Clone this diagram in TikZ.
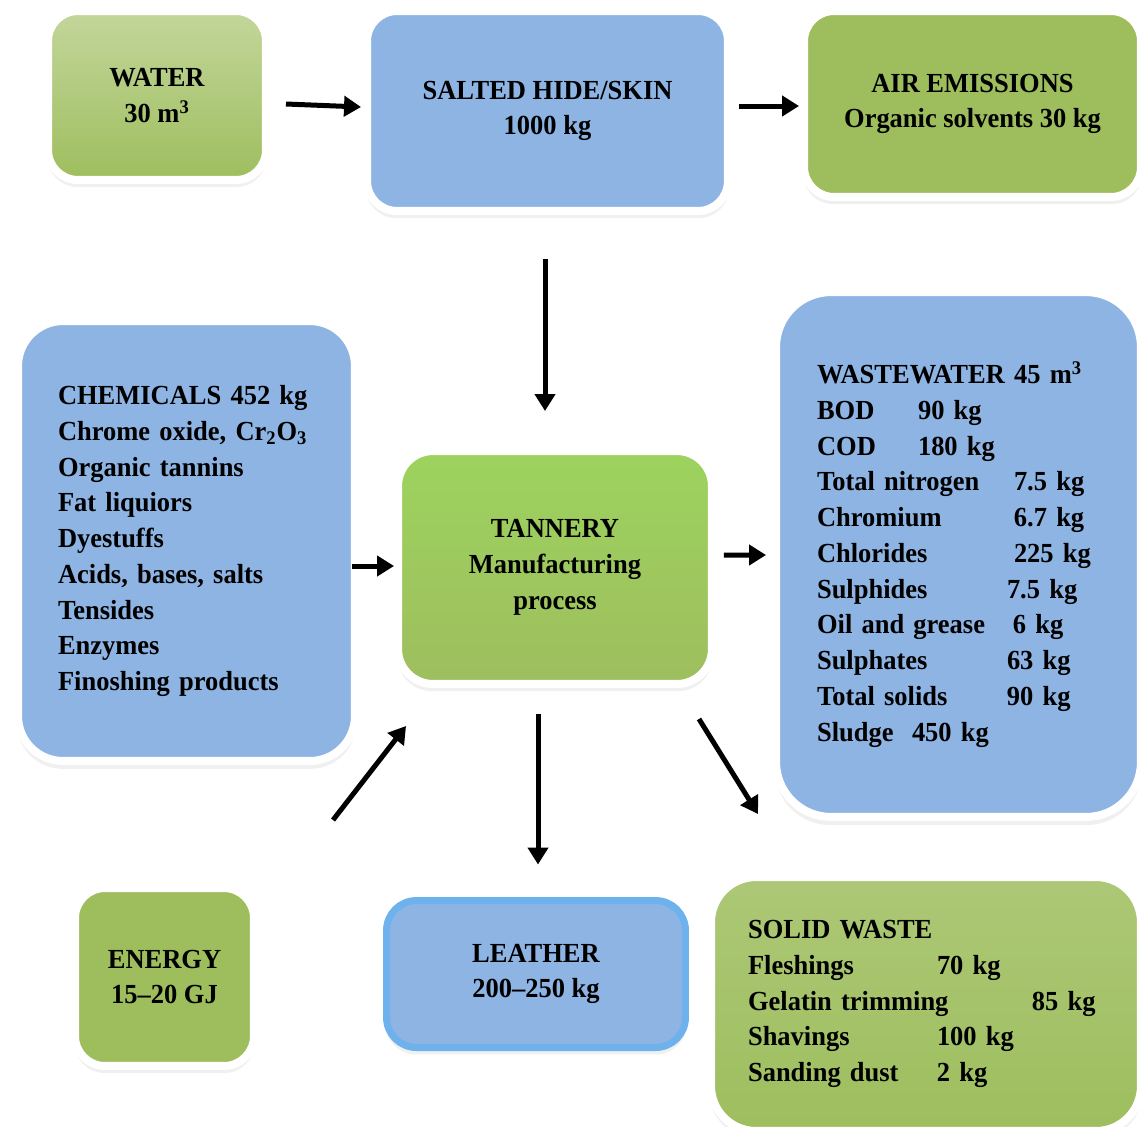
\documentclass[tikz,border=0pt]{standalone}
\usepackage{fontspec}
\setmainfont{Liberation Serif}[FakeStretch=0.96]
\usetikzlibrary{arrows.meta,calc,shadows}
\definecolor{hideblue}{HTML}{8EB4E3}
\definecolor{leafgreen}{HTML}{9EBE5E}
\definecolor{lightleaf}{HTML}{C3D69B}
\definecolor{brightleaf}{HTML}{9DD35E}
\definecolor{rimblue}{HTML}{6DB2EC}
\newcommand{\boxfont}{\fontsize{15.7}{20.35}\selectfont\bfseries}
\tikzset{
	>={Triangle[length=0.34cm,width=0.4cm]},  % solid heads
	box/.style={rounded corners=0.6cm, draw=white, line width=0.16cm,
		drop shadow={opacity=0.12, shadow xshift=0cm, shadow yshift=-0.13cm, shadow scale=1.006},
		drop shadow={opacity=0.22, shadow xshift=0.01cm, shadow yshift=-0.06cm, shadow scale=1.003},
		font=\boxfont, inner sep=0pt, align=center},
	bluebox/.style={box, fill=hideblue},
	greenbox/.style={box, fill=leafgreen},
	listbox/.style={align=left},
	flow/.style={->, line width=0.1cm}
}

\begin{document}
\begin{tikzpicture}[x=0.02cm,y=-0.02cm]
	\useasboundingbox (0,0) rectangle (1139,1126);
	\clip (0,0) rectangle (1139,1126);
	
	% inputs and the hide
	\node[box, top color=lightleaf, bottom color=leafgreen, minimum width=4.36cm, minimum height=3.38cm] (water) at (157,95.5) {WATER\\30 m\textsuperscript{3}};
	\node[bluebox, minimum width=7.22cm, minimum height=4cm] (hide) at (547.5,111) {SALTED HIDE/SKIN\\1000 kg};
	\node[greenbox, minimum width=6.74cm, minimum height=3.72cm] (air) at (972.5,104) {AIR EMISSIONS\\Organic solvents 30 kg};
	
	% middle row
	\node[bluebox, listbox, rounded corners=0.9cm, text width=5.14cm, inner xsep=0.8cm, minimum height=8.8cm] (chem) at (186.5,541) {CHEMICALS 452 kg\\Chrome oxide, Cr\textsubscript{2}O\textsubscript{3}\\Organic tannins\\Fat liquiors\\Dyestuffs\\Acids, bases, salts\\Tensides\\Enzymes\\Finoshing products};
	\node[box, top color=brightleaf, bottom color=leafgreen, rounded corners=0.7cm, minimum width=6.28cm, minimum height=4.66cm] (tannery) at (555,567.5) {TANNERY\\Manufacturing\\process};
	\node[bluebox, listbox, rounded corners=1.1cm, text width=5.66cm, inner xsep=0.82cm, minimum height=10.5cm] (waste) at (958.5,554.5) {WASTEWATER 45 m\textsuperscript{3}\\
		\makebox[2.02cm][l]{BOD}90 kg\\
		\makebox[2.02cm][l]{COD}180 kg\\
		\makebox[3.94cm][l]{Total nitrogen}7.5 kg\\
		\makebox[3.94cm][l]{Chromium}6.7 kg\\
		\makebox[3.94cm][l]{Chlorides}225 kg\\
		\makebox[3.8cm][l]{Sulphides}7.5 kg\\
		\makebox[3.92cm][l]{Oil and grease}6 kg\\
		\makebox[3.8cm][l]{Sulphates}63 kg\\
		\makebox[3.8cm][l]{Total solids}90 kg\\
		\makebox[1.9cm][l]{Sludge}450 kg};
	
	% outputs at the bottom
	\node[greenbox, minimum width=3.58cm, minimum height=3.56cm] (energy) at (164.5,977) {ENERGY\\15--20 GJ};
	\node[box, fill=hideblue, draw=rimblue, line width=0.14cm, minimum width=5.98cm, minimum height=2.94cm] (leather) at (536,974) {LEATHER\\200--250 kg};
	\node[box, listbox, top color=leafgreen!85!white, bottom color=leafgreen, rounded corners=0.9cm, text width=7.12cm, inner xsep=0.74cm, minimum height=5.08cm] (solid) at (926,1004) {SOLID WASTE\\
		\makebox[3.78cm][l]{Fleshings}70 kg\\
		\makebox[5.68cm][l]{Gelatin trimming}85 kg\\
		\makebox[3.78cm][l]{Shavings}100 kg\\
		\makebox[3.78cm][l]{Sanding dust}2 kg};
	
	% arrows
	\coordinate (energyin) at (333,820);
	\draw[flow] ($(water.east)+(16,8.5)$) -- ($(hide.west)+(-2,-4)$);
	\draw[flow] ($(hide.east)+(7,-5)$) -- ($(air.west)+(-1,2)$);
	\draw[flow] ($(hide.south)+(-2.5,44)$) -- ($(tannery.north)+(-10,-36)$);
	\draw[flow] ($(chem.east)+(-7,25)$) -- ($(tannery.west)+(0,-1.5)$);
	\draw[flow] ($(tannery.east)+(8,-12.5)$) -- ($(waste.west)+(-6,0.5)$);
	\draw[flow] (energyin) -- ($(tannery.south west)+(12,38)$);
	\draw[flow] ($(tannery.south)+(-17,26)$) -- ($(leather.north)+(2,-32.5)$);
	\draw[flow] ($(tannery.south east)+(-17,31)$) -- ($(solid.north west)+(51,-59)$);
\end{tikzpicture}
\end{document}
